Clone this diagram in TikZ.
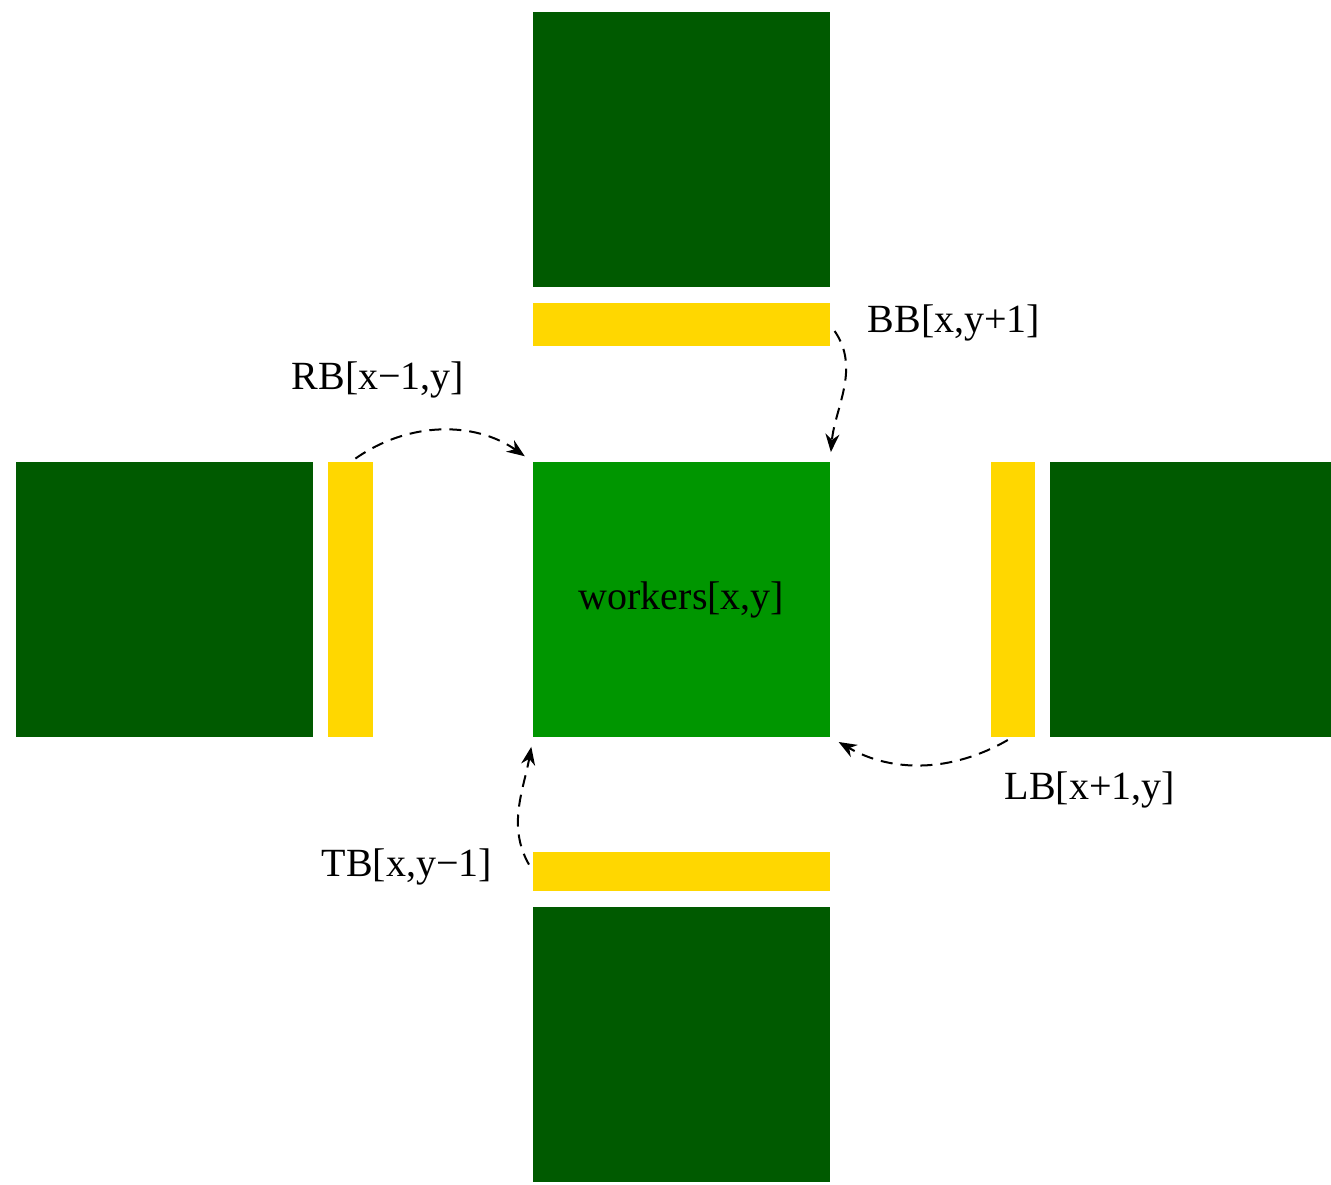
\documentclass[tikz,border=0pt]{standalone}
\usepackage{fontspec}
\setmainfont{Liberation Serif}
\usetikzlibrary{arrows.meta}
\definecolor{nbcell}{HTML}{005A00}
\definecolor{workcell}{HTML}{009600}
\definecolor{bufbar}{HTML}{FFD700}

\begin{document}
\begin{tikzpicture}[
    x=0.5pt, y=0.5pt,
    font=\fontsize{20}{24}\selectfont,
    cell/.style={fill=#1, inner sep=0pt, outer sep=0pt, minimum width=148.5pt, minimum height=137.5pt},
    hbar/.style={fill=bufbar, inner sep=0pt, outer sep=0pt, minimum width=148.5pt, minimum height=#1},
    vbar/.style={fill=bufbar, inner sep=0pt, outer sep=0pt, minimum width=#1, minimum height=137.5pt},
    link/.style={draw=black, line width=1pt, dash pattern=on 6pt off 4pt, -{Stealth[length=9pt, width=7pt]}},
    lbl/.style={inner sep=1pt}
]
    \useasboundingbox (0,0) rectangle (1331,1184);
    \clip (0,0) rectangle (1331,1184);
    \fill[white] (0,0) rectangle (1331,1184);

    % the worker in the middle
    \node[cell=workcell] (work) at (681.5,584.5) {workers[x,y]};

    % neighbour workers
    \node[cell=nbcell] (upper) at (681.5,1034.5) {};
    \node[cell=nbcell] (lower) at (681.5,139.5) {};
    \node[cell=nbcell] (left) at (164.5,584.5) {};
    \node[cell=nbcell] (right) at (1198.5,584.5) {};

    % boundary buffers
    \node[hbar=21.5pt] (bb) at (681.5,859.5) {};
    \node[hbar=19.5pt] (tb) at (681.5,312.5) {};
    \node[vbar=22.5pt] (rb) at (350.5,584.5) {};
    \node[vbar=22pt] (lb) at (1013,584.5) {};

    % buffer names
    \node[lbl] (rbname) at (378,804) {RB[x−1,y]};
    \node[lbl] (bbname) at (954,861) {BB[x,y+1]};
    \node[lbl] (lbname) at (1090,394) {LB[x+1,y]};
    \node[lbl] (tbname) at (407,317) {TB[x,y−1]};

    % copies into the worker
    \draw[link, shorten <=3pt, shorten >=5pt] (rb.north) to[out=35, in=145] (work.north west);
    \draw[link, shorten <=4pt, shorten >=5pt] (bb.east) to[out=-55, in=85] (work.north east);
    \draw[link, shorten <=3pt, shorten >=5pt] (lb.south) to[out=-150, in=-30] (work.south east);
    \draw[link, shorten <=4pt, shorten >=5pt] (tb.west) to[out=120, in=-100] (work.south west);

\end{tikzpicture}
\end{document}
